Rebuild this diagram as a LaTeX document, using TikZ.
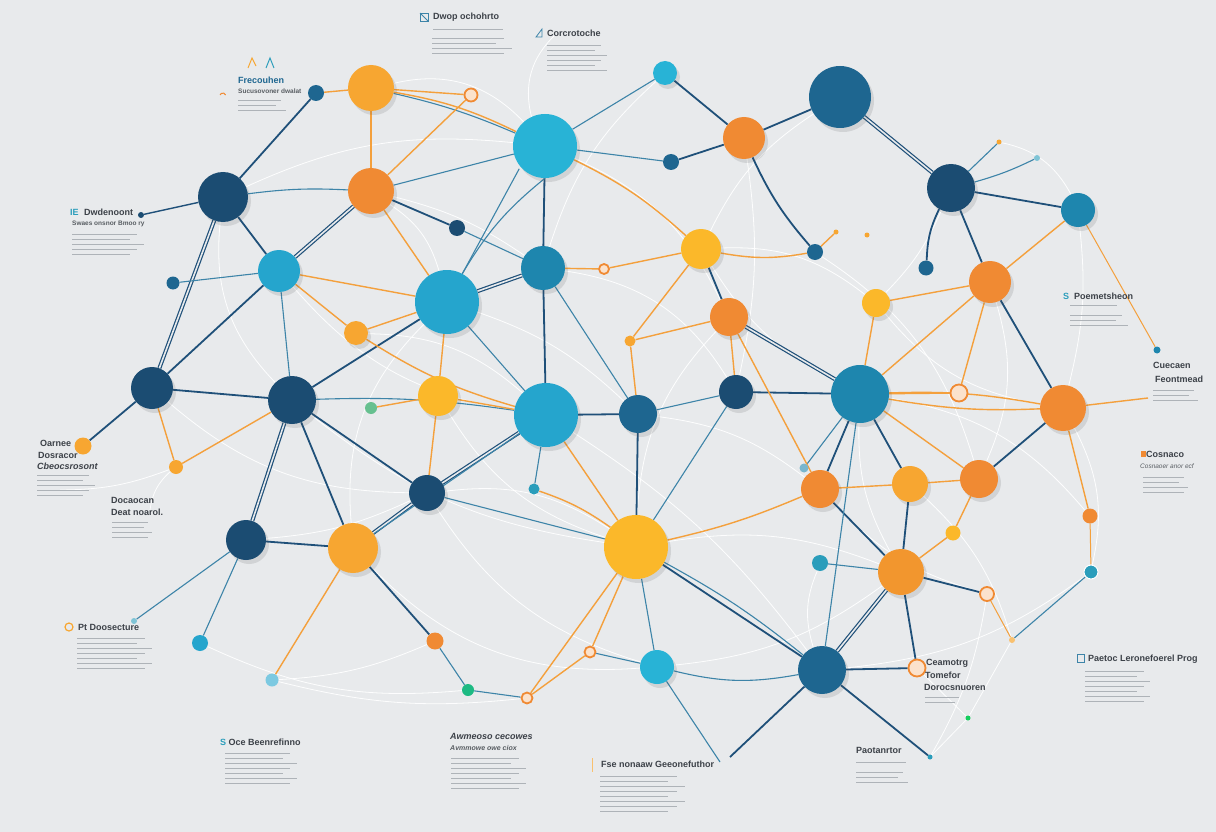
\documentclass[tikz,border=0pt]{standalone}
\usepackage{fontspec}
\setmainfont{Liberation Sans}
\usetikzlibrary{shadows}
\definecolor{bgc}{HTML}{E8EAEC}
\definecolor{navy}{HTML}{1B4C72}
\definecolor{dblue}{HTML}{1E6690}
\definecolor{mblue}{HTML}{1E86AE}
\definecolor{cyanA}{HTML}{28B3D6}
\definecolor{cyanB}{HTML}{25A5CD}
\definecolor{orng}{HTML}{F08A33}
\definecolor{yorng}{HTML}{F7A631}
\definecolor{yelw}{HTML}{FBB82A}
\definecolor{tealc}{HTML}{2A9DBB}
\definecolor{navline}{HTML}{1F5079}
\definecolor{tbline}{HTML}{3D84A8}
\definecolor{orline}{HTML}{F4A03C}
\definecolor{txtc}{HTML}{3C4148}
\definecolor{bodyc}{HTML}{AEB3B8}
\pgfdeclarelayer{back}
\pgfdeclarelayer{ghost}
\pgfdeclarelayer{edges}
\pgfsetlayers{back,ghost,edges,main}
\newcommand\txtlines[4]{\foreach \k in {1,...,#3} {\draw[bodyln] (#1,{#2+(\k-1)*5}) -- ++({#4*(1-0.1*mod(\k,3))},0);}}
\tikzset{
 nd/.style={circle,inner sep=0pt,minimum size=#1,drop shadow={shadow xshift=3pt,shadow yshift=-4pt,opacity=0.14,fill=black!70}},
 sm/.style={circle,inner sep=0pt,minimum size=#1},
 ring/.style={circle,inner sep=0pt,minimum size=#1,draw=orng,line width=1.8pt,fill=orng!25},
 nv/.style={draw=navline,line width=1.8pt},
 nvd/.style={draw=navline,line width=1.2pt,double=bgc,double distance=1.6pt},
 tb/.style={draw=tbline,line width=1.1pt},
 og/.style={draw=orline,line width=1.4pt},
 gh/.style={draw=white,line width=0.8pt,opacity=0.95},
 bodyln/.style={draw=bodyc,line width=0.8pt},
 ttl/.style={anchor=west,inner sep=0pt,font=\bfseries\fontsize{9}{10}\selectfont,text=txtc},
 sub/.style={anchor=west,inner sep=0pt,font=\bfseries\fontsize{6.5}{7.5}\selectfont,text=txtc!85},
}
\begin{document}
\begin{tikzpicture}[x=1pt,y=-1pt]
\begin{pgfonlayer}{back}
\fill[bgc] (0,0) rectangle (1216,832);
\end{pgfonlayer}
\useasboundingbox (0,0) rectangle (1216,832);

% ---------- large nodes
\node[nd=46,fill=yorng] (A1) at (371,88) {};
\node[nd=24,fill=cyanA] (A2) at (665,73) {};
\node[nd=62,fill=dblue] (A3) at (840,97) {};
\node[nd=64,fill=cyanA] (A4) at (545,146) {};
\node[nd=42,fill=orng] (A5) at (744,138) {};
\node[nd=50,fill=navy] (A6) at (223,197) {};
\node[nd=46,fill=orng] (A7) at (371,191) {};
\node[nd=48,fill=navy] (A8) at (951,188) {};
\node[nd=34,fill=mblue] (A9) at (1078,210) {};
\node[nd=42,fill=cyanB] (A10) at (279,271) {};
\node[nd=44,fill=mblue] (A11) at (543,268) {};
\node[nd=40,fill=yelw] (A12) at (701,249) {};
\node[nd=64,fill=cyanB] (A13) at (447,302) {};
\node[nd=42,fill=orng] (A14) at (990,282) {};
\node[nd=28,fill=yelw] (A15) at (876,303) {};
\node[nd=38,fill=orng] (A16) at (729,317) {};
\node[nd=24,fill=yorng] (A17) at (356,333) {};
\node[nd=42,fill=navy] (A18) at (152,388) {};
\node[nd=48,fill=navy] (A19) at (292,400) {};
\node[nd=40,fill=yelw] (A20) at (438,396) {};
\node[nd=64,fill=cyanB] (A21) at (546,415) {};
\node[nd=38,fill=dblue] (A22) at (638,414) {};
\node[nd=34,fill=navy] (A23) at (736,392) {};
\node[nd=58,fill=mblue] (A24) at (860,394) {};
\node[nd=46,fill=orng] (A25) at (1063,408) {};
\node[nd=36,fill=navy] (A26) at (427,493) {};
\node[nd=38,fill=orng] (A27) at (820,489) {};
\node[nd=36,fill=yorng] (A28) at (910,484) {};
\node[nd=38,fill=orng] (A29) at (979,479) {};
\node[nd=40,fill=navy] (A30) at (246,540) {};
\node[nd=50,fill=yorng] (A31) at (353,548) {};
\node[nd=64,fill=yelw] (A32) at (636,547) {};
\node[nd=46,fill=orng!90!yellow] (A33) at (901,572) {};
\node[nd=34,fill=cyanA] (A34) at (657,667) {};
\node[nd=48,fill=dblue] (A35) at (822,670) {};

% ---------- small nodes
\node[sm=16,fill=dblue] (s1) at (316,93) {};
\node[ring=13] (s2) at (471,95) {};
\node[sm=16,fill=dblue] (s3) at (671,162) {};
\node[sm=16,fill=navy] (s4) at (457,228) {};
\node[sm=13,fill=dblue] (s5) at (173,283) {};
\node[sm=16,fill=dblue] (s6) at (815,252) {};
\node[sm=15,fill=dblue] (s7) at (926,268) {};
\node[ring=10] (s8) at (604,269) {};
\node[sm=11,fill=yorng] (s9) at (630,341) {};
\node[ring=17] (s10) at (959,393) {};
\node[sm=17,fill=yorng] (s11) at (83,446) {};
\node[sm=14,fill=yorng] (s12) at (176,467) {};
\node[sm=12,fill=cyanB!70!yellow] (s13) at (371,408) {};
\node[sm=11,fill=tealc] (s14) at (534,489) {};
\node[sm=9,fill=mblue!60] (s15) at (804,468) {};
\node[sm=16,fill=tealc] (s16) at (820,563) {};
\node[sm=15,fill=yelw] (s17) at (953,533) {};
\node[sm=15,fill=orng] (s18) at (1090,516) {};
\node[sm=14,fill=tealc,draw=white,line width=1pt] (s19) at (1091,572) {};
\node[ring=14] (s20) at (987,594) {};
\node[sm=16,fill=cyanB] (s21) at (200,643) {};
\node[sm=13,fill=cyanB!60] (s22) at (272,680) {};
\node[sm=17,fill=orng] (s23) at (435,641) {};
\node[sm=12,fill=tealc!70!green] (s24) at (468,690) {};
\node[ring=11] (s25) at (527,698) {};
\node[ring=11] (s26) at (590,652) {};
\node[ring=17] (s27) at (917,668) {};
\node[sm=6,fill=navy] (s28) at (141,215) {};
\node[sm=6,fill=tealc!60] (c2) at (1037,158) {};
\node[sm=7,fill=mblue] (c3) at (1157,350) {};
\coordinate (c4) at (1148,398);
\node[sm=6,fill=tealc!60] (c5) at (134,621) {};
\coordinate (c6) at (730,757);
\node[sm=5,fill=tealc] (c7) at (930,757) {};
\coordinate (c8) at (720,762);
\node[sm=5,fill=green!50!tealc] (c9) at (968,718) {};
\node[sm=6,fill=yorng!70] (c10) at (1012,640) {};
\node[sm=5,fill=yorng] (c11) at (836,232) {};
\node[sm=5,fill=yorng] (c12) at (867,235) {};
\node[sm=5,fill=yorng] (c13) at (999,142) {};

% ---------- ghost (white) background lines
\begin{pgfonlayer}{ghost}
\draw[gh] (A6) to[bend left=15] (A4);
\draw[gh] (A10) to[bend right=20] (A21);
\draw[gh] (A7) to[bend left=10] (A11);
\draw[gh] (A4) to[bend left=20] (A16);
\draw[gh] (A12) to[bend right=15] (A24);
\draw[gh] (A13) to[bend left=12] (A22);
\draw[gh] (A19) to[bend right=15] (A32);
\draw[gh] (A26) to[bend right=20] (A34);
\draw[gh] (A31) to[bend right=25] (A34);
\draw[gh] (A21) to[bend left=10] (A35);
\draw[gh] (A22) to[bend left=15] (A27);
\draw[gh] (A24) to[bend right=15] (A33);
\draw[gh] (A14) to[bend left=20] (A29);
\draw[gh] (A8) to[bend left=10] (A15);
\draw[gh] (A3) to[bend right=15] (A12);
\draw[gh] (A5) to[bend left=10] (A23);
\draw[gh] (A2) to[bend right=15] (A11);
\draw[gh] (A18) to[bend right=20] (A26);
\draw[gh] (A30) to[bend right=10] (A26);
\draw[gh] (A32) to[bend left=15] (A33);
\draw[gh] (s19) to[bend left=15] (A35);
\draw[gh] (s21) to[bend right=15] (s24);
\draw[gh] (s22) to[bend right=10] (s23);
\draw[gh] (A25) to[bend left=20] (s19);
\draw[gh] (s20) to[bend left=10] (c7);
\draw[gh] (s27) to (c9);
\draw[gh] (c9) to (c7);
\draw[gh] (c10) to (c9);
\draw[gh] (A1) to[bend left=30] (A4);
\draw[gh] (A4) to[bend left=30] (555,35);
\draw[gh] (A9) to[bend left=10] (A25);
\draw[gh] (A16) to[bend right=20] (A32);
\draw[gh] (A20) to[bend right=20] (A32);
\draw[gh] (A13) to[bend right=25] (A31);
\draw[gh] (A6) to[bend right=25] (A19);
\draw[gh] (s12) to[bend left=10] (60,490);
\draw[gh] (s12) to[bend right=20] (150,510);
\draw[gh] (A11) to[bend left=25] (A23);
\draw[gh] (A24) to[bend left=20] (s18);
\draw[gh] (A28) to[bend left=15] (c10);
\draw[gh] (A15) to[bend right=20] (A25);
\draw[gh] (A34) to[bend right=15] (A33);
\draw[gh] (A26) to[bend left=20] (A32);
\draw[gh] (A17) to[bend left=20] (A21);
\draw[gh] (A7) to[bend left=20] (A13);
\draw[gh] (A12) to[bend left=20] (A15);
\draw[gh] (s6) to[bend left=20] (A29);
\draw[gh] (A27) to[bend right=15] (s20);
\draw[gh] (s16) to[bend right=20] (A35);
\draw[gh] (s22) to[bend right=10] (s25);
\draw[gh] (c13) to[bend left=25] (A9);
\end{pgfonlayer}

% ---------- edges
\begin{pgfonlayer}{edges}
% navy / blue
\draw[nv] (s1) -- (A6);
\draw[nv,line width=1.4pt] (s28) -- (A6);
\draw[nvd] (A6) -- (A18);
\draw[nv] (A6) -- (A10);
\draw[tb] (A6) to[bend left=5] (A7);
\draw[nvd] (A7) -- (A10);
\draw[tb] (A7) -- (A4);
\draw[nv] (A7) -- (s4);
\draw[nv] (A4) -- (A11);
\draw[tb] (A4) -- (A2);
\draw[tb] ([xshift=-3pt]A4.south west) -- (A13);
\draw[tb] (A4.south) to[bend right=10] (A13);
\draw[nv] (A2) -- (A5);
\draw[nv] (A5) -- (A3);
\draw[nv] (A5) -- (s3);
\draw[nv] (A5) to[bend right=8] (s6);
\draw[nvd] (A3) -- (A8);
\draw[nv] (A8) -- (A9);
\draw[nv] (A8) -- (A14);
\draw[nv] (A8) to[bend right=12] (s7);
\draw[tb] (A8) to[bend right=5] (c2);
\draw[nv] (A14) -- (A25);
\draw[nv] (A12) -- (A16);
\draw[nvd] (A16) -- (A24);
\draw[nvd] (A11) -- (A13);
\draw[nv] (A11) -- (A21);
\draw[tb] (A11) -- (A22);
\draw[tb] (s4) -- (A11);
\draw[tb] (A1) to[bend left=5] (A4);
\draw[nv] (A13) -- (A19);
\draw[nv] (A10) -- (A18);
\draw[tb] (A10) -- (A19);
\draw[tb] (A10) -- (s5);
\draw[nv] (A18) -- (A19);
\draw[nv] (A18) -- (s11);
\draw[tb] (A19) to[bend left=5] (A21);
\draw[nv] (A19) -- (A26);
\draw[nvd] (A19) -- (A30);
\draw[nv] (A19) -- (A31);
\draw[nvd] (A21) -- (A26);
\draw[nv] (A21) -- (A22);
\draw[tb] (A21) -- (s14);
\draw[nv] (A22) -- (A32);
\draw[tb] (A23) -- (A32);
\draw[nv] (A23) -- (A24);
\draw[nv] (A24) -- (A27);
\draw[nv] (A24) -- (A28);
\draw[tb] (A24) -- (s15);
\draw[nv] (A25) -- (A29);
\draw[nv] (A27) -- (A33);
\draw[nv] (A28) -- (A33);
\draw[nv] (A33) -- (s20);
\draw[nvd] (A33) -- (A35);
\draw[nv] (A33) -- (s27);
\draw[tb] (s16) -- (A33);
\draw[tb] (A32) -- (A26);
\draw[tb] (A32) -- (A34);
\draw[nv] (A32) -- (A35);
\draw[tb] (A32) to[bend left=5] (A35);
\draw[nvd] (A31) -- (A26);
\draw[nv] (A31) -- (A30);
\draw[nv] (A31) -- (s23);
\draw[tb] (A31) -- (A21);
\draw[tb] (s23) -- (s24);
\draw[tb] (s24) -- (s25);
\draw[tb] (s26) -- (A34);
\draw[tb] (A30) -- (s21);
\draw[tb] (A30) -- (c5);
\draw[tb] (A34) to[bend right=12] (A35);
\draw[tb] (A34) -- (c8);
\draw[nv] (A35) -- (c6);
\draw[nv] (A35) -- (c7);
\draw[nv] (A35) -- (s27);
\draw[tb] (A35) -- (A24);
\draw[tb] (A22) -- (A23);
\draw[tb] (A13) -- (A21);
\draw[tb] (s3) -- (A4);
\draw[tb] (s19) -- (c10);
% orange
\draw[og] (A1) -- (A7);
\draw[og] (A1) -- (s1);
\draw[og] (A1) -- (s2);
\draw[og] (A1) to[bend left=8] (A4);
\draw[og] (s2) -- (A7);
\draw[og] (A13) -- (A10);
\draw[og] (A13) -- (A17);
\draw[og] (A13) -- (A20);
\draw[og] (A13) -- (A7);
\draw[og] (A10) -- (A17);
\draw[og] (A18) -- (s12);
\draw[og] (A19) -- (s12);
\draw[og] (A20) -- (A21);
\draw[og] (A20) -- (s13);
\draw[og] (A20) -- (A26);
\draw[og] (A4) to[bend left=8] (A12);
\draw[og] (A12) -- (s8);
\draw[og] (A12) to[bend right=10] (s6);
\draw[og] (A12) -- (s9);
\draw[og] (A9) -- (A14);
\draw[og] (A14) -- (A24);
\draw[og] (A14) -- (A15);
\draw[og] (A14) -- (s10);
\draw[og] (A16) -- (A23);
\draw[og] (A16) -- (A27);
\draw[og] (A24) to[bend left=6] (A25);
\draw[og] (A24) to[bend right=6] (A25);
\draw[og] (A24) -- (s10);
\draw[og] (A24) -- (A29);
\draw[og] (A27) -- (A28);
\draw[og] (A28) -- (A29);
\draw[og] (A27) to[bend left=5] (A32);
\draw[og] (A29) -- (s17);
\draw[og] (s17) -- (A33);
\draw[og] (A32) to[bend right=8] (s14);
\draw[og] (A32) -- (s26);
\draw[og] (A32) -- (s25);
\draw[og] (A31) -- (s22);
\draw[og] (s25) -- (s26);
\draw[og] (s18) -- (A25);
\draw[og,line width=1pt] (s18) -- (s19);
\draw[og] (A11) -- (s8);
\draw[og] (A15) -- (A24);
\draw[og] (A21) -- (A32);
\draw[og] (A21) to[bend left=8] (A17);
\draw[og] (A16) -- (s9);
\draw[og] (A22) -- (s9);
\draw[og,line width=1pt] (A9) -- (c3);
\draw[og] (A25) -- (c4);
\draw[tb] (A8) -- (c13);
\draw[og] (s6) -- (c11);
\draw[og,line width=1pt] (s20) -- (c10);
\end{pgfonlayer}

% ---------- text blocks
\draw[tbline,line width=0.8pt] (420,13) rectangle (428,21);
\draw[tbline,line width=0.8pt] (420,13) -- (428,21);
\node[ttl] (T1) at (433,17) {Dwop ochohrto};
\txtlines{433}{29}{1}{78}
\txtlines{432}{38}{4}{80}
\node[ttl] (T2) at (547,33) {Corcrotoche};
\draw[tbline,line width=0.8pt] (536,37) -- (542,29) -- (542,37) -- cycle;
\txtlines{547}{45}{6}{60}
\node[ttl,text=dblue] (T3) at (238,80) {Frecouhen};
\node[sub] (T3b) at (238,91) {Sucusovoner dwalat};
\txtlines{238}{100}{3}{48}
\draw[orng,line width=1pt] (220,95) arc (200:340:3);
\draw[yorng,line width=1pt] (248,68) -- (252,58) -- (256,66);
\draw[tealc,line width=1pt] (266,68) -- (270,58) -- (274,68);
\node[ttl,text=tealc] (T4i) at (70,212) {IE};
\node[ttl] (T4) at (84,212) {Dwdenoont};
\node[sub] (T4b) at (72,224) {Swaes onsnor Bmoo ry};
\txtlines{72}{234}{5}{72}
\node[ttl] (T5) at (40,443) {Oarnee};
\node[ttl] (T5b) at (38,455) {Dosracor};
\node[ttl,font=\bfseries\itshape\fontsize{9}{10}\selectfont] (T5c) at (37,466) {Cbeocsrosont};
\txtlines{37}{475}{5}{58}
\node[ttl] (T6) at (111,500) {Docaocan};
\node[ttl] (T6b) at (111,512) {Deat noarol.};
\txtlines{112}{522}{4}{40}
\node[ttl] (T7) at (78,627) {Pt Doosecture};
\draw[yorng,line width=1.2pt] (69,627) circle (4);
\txtlines{77}{638}{7}{75}
\node[ttl] (T8) at (220,742) {\textcolor{tealc}{S} Oce Beenrefinno};
\txtlines{225}{753}{7}{72}
\node[ttl,font=\bfseries\itshape\fontsize{9}{10}\selectfont] (T9) at (450,736) {Awmeoso cecowes};
\node[sub,font=\bfseries\itshape\fontsize{7}{8}\selectfont] (T9b) at (450,748) {Avmmowe owe ciox};
\txtlines{451}{758}{7}{75}
\node[ttl] (T10) at (601,764) {Fse nonaaw Geeonefuthor};
\draw[yorng!70,line width=1pt] (592,758) -- (592,772);
\txtlines{600}{776}{8}{85}
\node[ttl] (T11) at (856,750) {Paotanrtor};
\txtlines{856}{762}{1}{55}
\txtlines{856}{772}{3}{52}
\node[ttl] (T12) at (926,663) {Ceamotrg};
\node[ttl] (T12b) at (925,675) {Tomefor};
\node[ttl] (T12c) at (924,687) {Dorocsnuoren};
\txtlines{925}{697}{2}{38}
\draw[tbline,line width=0.8pt] (1077,654) rectangle (1084,662);
\node[ttl] (T13) at (1088,659) {Paetoc Leronefoerel Prog};
\txtlines{1085}{671}{7}{65}
\node[ttl] (T14) at (1063,296) {\textcolor{tealc}{S}\ \ Poemetsheon};
\txtlines{1070}{305}{1}{52}
\txtlines{1070}{315}{3}{58}
\node[ttl] (T15) at (1153,365) {Cuecaen};
\node[ttl] (T15b) at (1155,379) {Feontmead};
\txtlines{1153}{390}{3}{45}
\node[ttl] (T16) at (1141,454) {\textcolor{orng}{\rule{5pt}{6pt}}Cosnaco};
\node[sub,font=\itshape\fontsize{6.5}{7.5}\selectfont] (T16b) at (1140,466) {Cosnaoer anor ecf};
\txtlines{1143}{477}{4}{45}
\end{tikzpicture}
\end{document}
